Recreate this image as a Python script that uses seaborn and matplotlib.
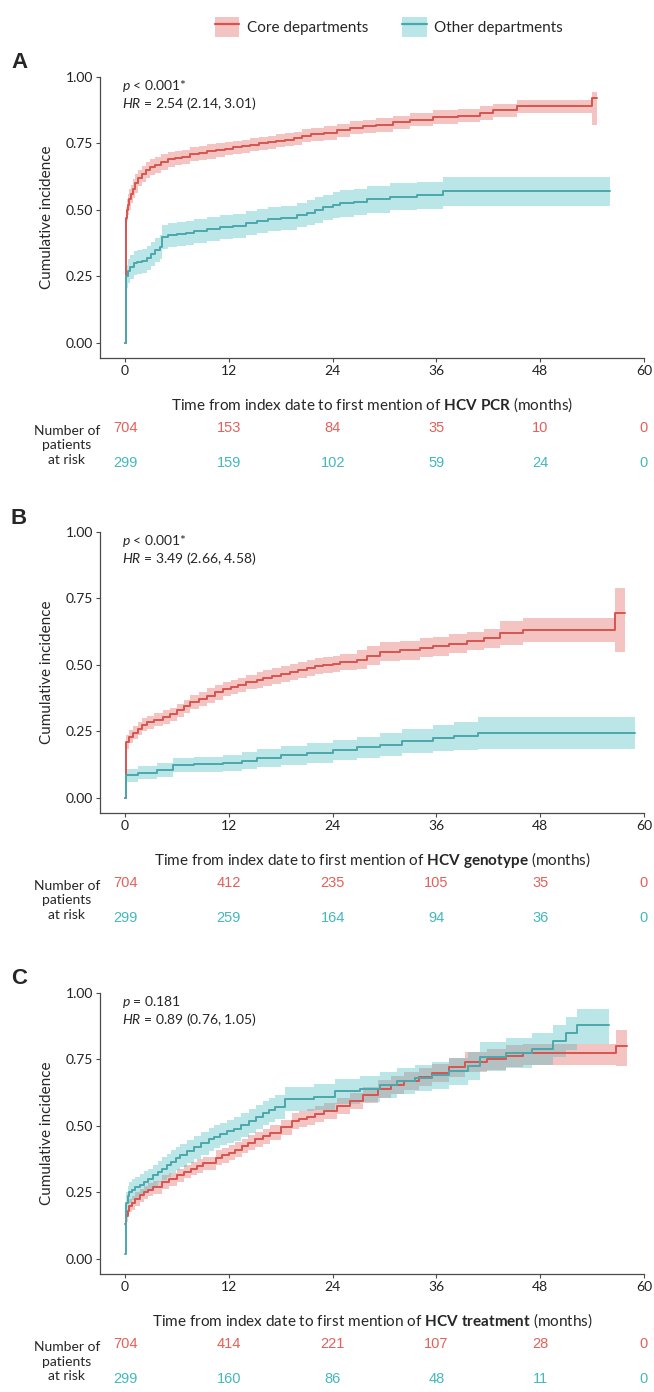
import pandas as pd
import seaborn as sns
import matplotlib.pyplot as plt
import matplotlib.transforms as mtransforms
from matplotlib.patches import Patch
from matplotlib.lines import Line2D

# ---- data ----
groups = ["Core departments", "Other departments"]
risk_times = [0, 12, 24, 36, 48, 60]

# Panel A: HCV PCR
a_core_t = [0, 0.1, 0.2, 0.35, 0.5, 0.7, 0.9, 1.2, 1.5, 1.9, 2.4, 2.9, 3.5, 4.2, 5.0, 5.8, 6.6, 7.5, 8.5, 9.5,
            10.5, 11.5, 12.5, 13.5, 14.5, 15.5, 16.5, 17.5, 18.5, 19.5, 20.5, 21.5, 23.0, 24.5, 26.0, 27.5, 29.0, 31.0, 33.0, 35.6,
            38.5, 41.0, 42.5, 45.3, 54.0, 54.6]
a_core_v = [0, 0.47, 0.50, 0.52, 0.54, 0.56, 0.58, 0.60, 0.62, 0.635, 0.65, 0.66, 0.67, 0.68, 0.69, 0.695, 0.70, 0.71, 0.715, 0.72,
            0.725, 0.73, 0.735, 0.74, 0.745, 0.75, 0.755, 0.76, 0.765, 0.77, 0.78, 0.785, 0.79, 0.80, 0.81, 0.815, 0.82, 0.83, 0.84, 0.85,
            0.855, 0.865, 0.875, 0.89, 0.92, 0.92]
a_core_lo = [0, 0.43, 0.46, 0.48, 0.50, 0.525, 0.545, 0.565, 0.59, 0.605, 0.62, 0.63, 0.64, 0.65, 0.663, 0.668, 0.673, 0.683, 0.688, 0.693,
             0.70, 0.705, 0.71, 0.715, 0.72, 0.725, 0.73, 0.735, 0.74, 0.745, 0.755, 0.76, 0.765, 0.775, 0.785, 0.79, 0.795, 0.805, 0.815, 0.825,
             0.83, 0.84, 0.85, 0.865, 0.82, 0.82]
a_core_hi = [0, 0.51, 0.54, 0.56, 0.58, 0.595, 0.615, 0.635, 0.65, 0.665, 0.68, 0.69, 0.70, 0.71, 0.717, 0.722, 0.727, 0.737, 0.742, 0.747,
             0.75, 0.755, 0.76, 0.765, 0.77, 0.775, 0.78, 0.785, 0.79, 0.795, 0.805, 0.81, 0.815, 0.825, 0.835, 0.84, 0.845, 0.855, 0.865, 0.875,
             0.88, 0.89, 0.90, 0.915, 0.945, 0.945]
a_oth_t = [0, 0.1, 0.3, 0.6, 1.0, 1.4, 1.9, 2.5, 3.0, 3.5, 4.0, 4.3, 5.0, 6.0, 7.0, 8.0, 9.5, 11.0, 12.5, 14.0,
           15.3, 16.5, 18.0, 19.9, 21.0, 22.0, 22.9, 24.0, 24.9, 26.5, 28.0, 30.6, 33.7, 36.8, 56.1]
a_oth_v = [0, 0.25, 0.27, 0.285, 0.30, 0.305, 0.31, 0.32, 0.335, 0.35, 0.36, 0.40, 0.405, 0.41, 0.415, 0.42, 0.43, 0.435, 0.44, 0.45,
           0.46, 0.465, 0.47, 0.48, 0.49, 0.50, 0.51, 0.52, 0.525, 0.53, 0.54, 0.55, 0.555, 0.57, 0.57]
a_oth_lo = [0, 0.205, 0.225, 0.24, 0.255, 0.26, 0.265, 0.275, 0.29, 0.305, 0.315, 0.355, 0.36, 0.365, 0.37, 0.375, 0.385, 0.39, 0.395, 0.405,
            0.415, 0.42, 0.425, 0.435, 0.443, 0.452, 0.462, 0.471, 0.475, 0.48, 0.49, 0.5, 0.503, 0.515, 0.515]
a_oth_hi = [0, 0.295, 0.315, 0.33, 0.345, 0.35, 0.355, 0.365, 0.38, 0.395, 0.405, 0.445, 0.45, 0.455, 0.46, 0.465, 0.475, 0.48, 0.485, 0.495,
            0.505, 0.51, 0.515, 0.525, 0.537, 0.548, 0.558, 0.569, 0.575, 0.58, 0.59, 0.6, 0.607, 0.625, 0.625]
a_risk_core = [704, 153, 84, 35, 10, 0]
a_risk_oth = [299, 159, 102, 59, 24, 0]

# Panel B: HCV genotype
b_core_t = [0, 0.1, 0.5, 0.9, 1.5, 2.0, 2.5, 3.3, 4.4, 5.2, 6.0, 6.8, 7.5, 8.5, 9.5, 10.4, 11.3, 12.2, 13.0, 14.0,
            15.2, 16.0, 17.0, 18.0, 19.1, 20.0, 21.0, 22.0, 22.9, 24.0, 24.8, 26.8, 28.0, 29.5, 31.8, 34.1, 35.6, 37.5, 39.5, 41.5,
            43.4, 46.0, 56.6, 57.8]
b_core_v = [0, 0.21, 0.23, 0.245, 0.26, 0.275, 0.285, 0.295, 0.305, 0.315, 0.33, 0.345, 0.36, 0.372, 0.385, 0.397, 0.41, 0.418, 0.425, 0.435,
            0.445, 0.452, 0.46, 0.467, 0.475, 0.482, 0.49, 0.495, 0.50, 0.505, 0.51, 0.52, 0.535, 0.55, 0.555, 0.565, 0.57, 0.58, 0.59, 0.60,
            0.62, 0.63, 0.695, 0.695]
b_core_lo = [0, 0.185, 0.205, 0.22, 0.235, 0.25, 0.26, 0.27, 0.28, 0.29, 0.305, 0.32, 0.333, 0.345, 0.358, 0.37, 0.383, 0.391, 0.398, 0.408,
             0.415, 0.422, 0.43, 0.437, 0.445, 0.452, 0.46, 0.465, 0.47, 0.475, 0.48, 0.485, 0.50, 0.515, 0.52, 0.53, 0.535, 0.545, 0.555, 0.565,
             0.575, 0.585, 0.55, 0.55]
b_core_hi = [0, 0.235, 0.255, 0.27, 0.285, 0.30, 0.31, 0.32, 0.33, 0.34, 0.355, 0.37, 0.387, 0.399, 0.412, 0.424, 0.437, 0.445, 0.452, 0.462,
             0.475, 0.482, 0.49, 0.497, 0.505, 0.512, 0.52, 0.525, 0.53, 0.535, 0.54, 0.555, 0.57, 0.585, 0.59, 0.60, 0.605, 0.615, 0.625, 0.635,
             0.665, 0.675, 0.79, 0.79]
b_oth_t = [0, 0.1, 1.5, 3.7, 5.5, 8.0, 11.3, 13.5, 15.2, 18.0, 21.0, 24.0, 26.8, 29.5, 32.0, 35.6, 38.0, 40.8, 59.0]
b_oth_v = [0, 0.085, 0.095, 0.105, 0.124, 0.127, 0.13, 0.14, 0.15, 0.16, 0.17, 0.18, 0.19, 0.20, 0.215, 0.225, 0.232, 0.245, 0.245]
b_oth_lo = [0, 0.06, 0.07, 0.078, 0.096, 0.098, 0.1, 0.108, 0.117, 0.125, 0.133, 0.141, 0.149, 0.157, 0.169, 0.176, 0.18, 0.185, 0.185]
b_oth_hi = [0, 0.11, 0.12, 0.132, 0.152, 0.156, 0.16, 0.172, 0.183, 0.195, 0.207, 0.219, 0.231, 0.243, 0.261, 0.274, 0.284, 0.305, 0.305]
b_risk_core = [704, 412, 235, 105, 35, 0]
b_risk_oth = [299, 259, 164, 94, 36, 0]

# Panel C: HCV treatment
c_core_t = [0, 0.1, 0.3, 0.5, 0.8, 1.2, 1.7, 2.2, 2.7, 3.2, 4.3, 5.1, 6.0, 6.8, 7.6, 8.3, 9.0, 10.5, 11.2, 12.0,
            12.7, 13.5, 14.2, 15.0, 15.9, 16.8, 18.0, 19.3, 20.1, 21.0, 22.0, 23.0, 24.5, 26.0, 27.5, 29.3, 30.8, 32.2, 34.0, 35.5,
            37.5, 39.3, 41.8, 44.0, 46.0, 56.8, 58.0]
c_core_v = [0.13, 0.16, 0.18, 0.20, 0.21, 0.225, 0.24, 0.25, 0.26, 0.27, 0.29, 0.30, 0.315, 0.328, 0.34, 0.35, 0.36, 0.38, 0.39, 0.40,
            0.41, 0.425, 0.437, 0.45, 0.462, 0.475, 0.495, 0.52, 0.528, 0.535, 0.545, 0.556, 0.575, 0.594, 0.615, 0.64, 0.655, 0.67, 0.685, 0.70,
            0.72, 0.74, 0.75, 0.765, 0.775, 0.80, 0.80]
c_core_lo = [0.11, 0.14, 0.16, 0.175, 0.185, 0.20, 0.215, 0.225, 0.235, 0.245, 0.265, 0.275, 0.29, 0.303, 0.315, 0.325, 0.335, 0.352, 0.362, 0.372,
             0.382, 0.397, 0.409, 0.422, 0.434, 0.447, 0.467, 0.49, 0.498, 0.505, 0.515, 0.526, 0.545, 0.564, 0.585, 0.607, 0.622, 0.637, 0.652, 0.667,
             0.685, 0.703, 0.712, 0.722, 0.728, 0.725, 0.725]
c_core_hi = [0.15, 0.18, 0.20, 0.225, 0.235, 0.25, 0.265, 0.275, 0.285, 0.295, 0.315, 0.325, 0.34, 0.353, 0.365, 0.375, 0.385, 0.408, 0.418, 0.428,
             0.438, 0.453, 0.465, 0.478, 0.49, 0.503, 0.523, 0.55, 0.558, 0.565, 0.575, 0.586, 0.605, 0.624, 0.645, 0.673, 0.688, 0.703, 0.718, 0.733,
             0.755, 0.777, 0.788, 0.805, 0.81, 0.86, 0.86]
c_oth_t = [0, 0.05, 0.1, 0.3, 0.5, 0.8, 1.2, 1.7, 2.2, 2.7, 3.2, 3.8, 4.3, 4.8, 5.3, 5.9, 6.4, 7.2, 8.0, 8.8,
           9.7, 10.3, 11.0, 11.8, 12.6, 13.4, 14.3, 15.1, 16.0, 16.6, 17.3, 18.5, 21.8, 24.3, 27.2, 29.5, 31.4, 33.5, 35.5, 37.5,
           39.7, 41.0, 44.0, 47.0, 49.5, 51.0, 52.3, 56.0]
c_oth_v = [0.02, 0.17, 0.21, 0.235, 0.25, 0.26, 0.27, 0.28, 0.29, 0.30, 0.315, 0.328, 0.34, 0.352, 0.365, 0.378, 0.39, 0.405, 0.42, 0.435,
           0.45, 0.46, 0.47, 0.48, 0.49, 0.505, 0.52, 0.535, 0.55, 0.56, 0.57, 0.60, 0.61, 0.63, 0.64, 0.655, 0.67, 0.68, 0.69, 0.705,
           0.725, 0.76, 0.775, 0.79, 0.82, 0.85, 0.88, 0.88]
c_oth_lo = [0.02, 0.13, 0.17, 0.195, 0.21, 0.22, 0.23, 0.24, 0.25, 0.26, 0.275, 0.288, 0.297, 0.309, 0.322, 0.335, 0.347, 0.362, 0.377, 0.392,
            0.407, 0.417, 0.427, 0.437, 0.445, 0.46, 0.475, 0.49, 0.505, 0.515, 0.525, 0.555, 0.562, 0.582, 0.592, 0.607, 0.622, 0.632, 0.638, 0.653,
            0.673, 0.705, 0.718, 0.73, 0.76, 0.785, 0.81, 0.81]
c_oth_hi = [0.02, 0.21, 0.25, 0.275, 0.29, 0.30, 0.31, 0.32, 0.33, 0.34, 0.355, 0.368, 0.383, 0.395, 0.408, 0.421, 0.433, 0.448, 0.463, 0.478,
            0.493, 0.503, 0.513, 0.523, 0.535, 0.55, 0.565, 0.58, 0.595, 0.605, 0.615, 0.645, 0.658, 0.678, 0.688, 0.703, 0.718, 0.728, 0.742, 0.757,
            0.777, 0.815, 0.832, 0.85, 0.88, 0.91, 0.94, 0.94]
c_risk_core = [704, 414, 221, 107, 28, 0]
c_risk_oth = [299, 160, 86, 48, 11, 0]

panel_letters = ["A", "B", "C"]
outcomes = ["HCV PCR", "HCV genotype", "HCV treatment"]
p_texts = ["< 0.001*", "< 0.001*", "= 0.181"]
hr_texts = ["= 2.54 (2.14, 3.01)", "= 3.49 (2.66, 4.58)", "= 0.89 (0.76, 1.05)"]

curves = [
    [(a_core_t, a_core_v, a_core_lo, a_core_hi), (a_oth_t, a_oth_v, a_oth_lo, a_oth_hi)],
    [(b_core_t, b_core_v, b_core_lo, b_core_hi), (b_oth_t, b_oth_v, b_oth_lo, b_oth_hi)],
    [(c_core_t, c_core_v, c_core_lo, c_core_hi), (c_oth_t, c_oth_v, c_oth_lo, c_oth_hi)],
]
risks = [(a_risk_core, a_risk_oth), (b_risk_core, b_risk_oth), (c_risk_core, c_risk_oth)]

# ---- style ----
line_cols = ["#D9544E", "#4AA8AD"]
fill_cols = ["#E06660", "#4DBEC3"]
risk_cols = ["#E5605A", "#43B8BE"]
fill_alpha = 0.38

sns.set_style("ticks")
plt.rcParams["font.family"] = ["Lato", "DejaVu Sans"]
plt.rcParams["mathtext.fontset"] = "custom"
plt.rcParams["mathtext.rm"] = "Lato"
plt.rcParams["mathtext.it"] = "Lato:italic"
plt.rcParams["mathtext.bf"] = "Lato:bold"

W, H = 654, 1392
fig = plt.figure(figsize=(W / 100, H / 100), dpi=100)

ax_left, ax_w, ax_h = 100, 544, 281
tops = [77, 532, 993]

for i in range(3):
    top = tops[i]
    ax = fig.add_axes([ax_left / W, 1 - (top + ax_h) / H, ax_w / W, ax_h / H])
    for g in range(2):
        t, v, lo, hi = curves[i][g]
        ax.fill_between(t, lo, hi, step="post", color=fill_cols[g], alpha=fill_alpha, lw=0)
        df = pd.DataFrame({"t": t, "v": v})
        sns.lineplot(data=df, x="t", y="v", ax=ax, color=line_cols[g], lw=1.4,
                     drawstyle="steps-post", estimator=None, sort=False)

    ax.set_xlim(-2.9, 60)
    ax.set_ylim(-0.0564, 1.0)
    ax.set_xticks(risk_times)
    ax.set_yticks([0, 0.25, 0.5, 0.75, 1.0])
    ax.set_yticklabels(["0.00", "0.25", "0.50", "0.75", "1.00"])
    sns.despine(ax=ax)
    for s in ["left", "bottom"]:
        ax.spines[s].set_color("#4a4a4a")
        ax.spines[s].set_linewidth(0.9)
    ax.tick_params(axis="both", length=3, width=0.8, color="#4a4a4a",
                   labelsize=10, labelcolor="#222222", pad=2)
    ax.set_ylabel("Cumulative incidence", fontsize=11, labelpad=8)
    words = outcomes[i].replace(" ", r"\ ")
    ax.set_xlabel(r"Time from index date to first mention of $\mathbf{" + words + "}$ (months)",
                  fontsize=11, labelpad=13)

    ax.text(0.04, 0.968, r"$\mathit{p}$ " + p_texts[i], transform=ax.transAxes,
            fontsize=10, va="center", ha="left")
    ax.text(0.04, 0.904, r"$\mathit{HR}$ " + hr_texts[i], transform=ax.transAxes,
            fontsize=10, va="center", ha="left")

    fig.text(11 / W, 1 - (top - 14) / H, panel_letters[i], fontsize=16,
             fontweight="bold", family="Liberation Sans", ha="left", va="center")

    # number at risk table
    spine_y = top + ax_h
    trans = mtransforms.blended_transform_factory(ax.transData, fig.transFigure)
    for g, off in enumerate([70, 105]):
        for tt, n in zip(risk_times, risks[i][g]):
            ax.text(tt, 1 - (spine_y + off) / H, str(n), transform=trans,
                    ha="center", va="center", fontsize=10.5, color=risk_cols[g],
                    family="Liberation Sans", clip_on=False)
    fig.text(ax_left / W, 1 - (spine_y + 87.5) / H, "Number of\npatients\nat risk",
             ha="right", va="center", multialignment="center", fontsize=10,
             linespacing=1.25)

# legend
handles = [(Patch(facecolor=fill_cols[g], alpha=fill_alpha, edgecolor="none"),
            Line2D([], [], color=line_cols[g], lw=1.6)) for g in range(2)]
fig.legend(handles, groups, loc="center", bbox_to_anchor=(389 / W, 1 - 27 / H),
           ncol=2, frameon=False, fontsize=11, handlelength=1.6, handleheight=1.7,
           handletextpad=0.5, columnspacing=2.2)

fig.savefig("out.png", dpi=100)
